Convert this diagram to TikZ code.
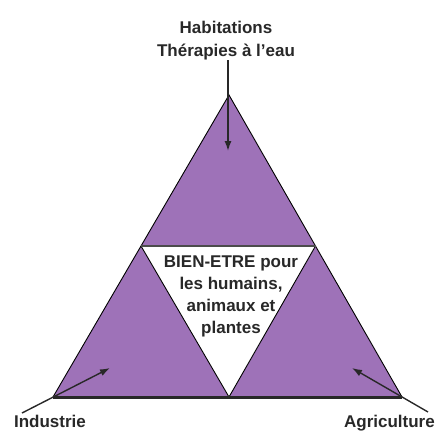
\documentclass[tikz,border=0pt]{standalone}
\usepackage{fontspec}
\setmainfont{Liberation Sans}
\usetikzlibrary{arrows.meta}
\definecolor{tri}{RGB}{158,114,184}
\definecolor{ink}{RGB}{40,40,40}
\begin{document}
\begin{tikzpicture}[x=1pt,y=-1pt,
  lbl/.style={font=\fontsize{17}{23}\selectfont\bfseries, text=ink, inner sep=0pt, align=center},
  inner/.style={font=\fontsize{17}{22}\selectfont\bfseries, text=ink, inner sep=0pt, align=center},
  arr/.style={draw=ink, line width=1.4pt, -{Latex[length=10pt,width=7pt]}},
  edge/.style={draw=black, line width=0.9pt}]
\useasboundingbox (0,0) rectangle (436,432);
% corners
\coordinate (A) at (229,95);
\coordinate (L) at (53,397);
\coordinate (R) at (402,397);
\coordinate (ML) at (141,246);
\coordinate (MR) at (315.5,246);
\coordinate (MB) at (229,397);
% fills
\fill[tri] (A) -- (L) -- (R) -- cycle;
\fill[white] (ML) -- (MR) -- (MB) -- cycle;
% edges
\draw[edge] (L) -- (A) -- (R);
\draw[edge] (ML) -- (MB) -- (MR);
\draw[line width=2pt, black!70] (ML) -- (MR);
\draw[line width=3pt, ink] (L) -- (R);
% texts
\node[lbl] (top) at (226,40.5) {Habitations\\Thérapies à l'eau};
\node[inner] (mid) at (231,296.5) {BIEN-ETRE pour\\les humains,\\animaux et\\plantes};
\node[lbl, anchor=base] (ind) at (50,427) {Industrie};
\node[lbl, anchor=base east] (agr) at (435,427) {Agriculture};
% arrows
\coordinate (ttip) at (228,151);
\coordinate (istart) at (22,413);
\coordinate (itip) at (110,368);
\coordinate (astart) at (428,412);
\coordinate (atip) at (352,368);
\draw[arr] (top.south -| ttip) -- (ttip);
\draw[arr] (istart) -- (itip);
\draw[arr] (astart) -- (atip);
\end{tikzpicture}
\end{document}
